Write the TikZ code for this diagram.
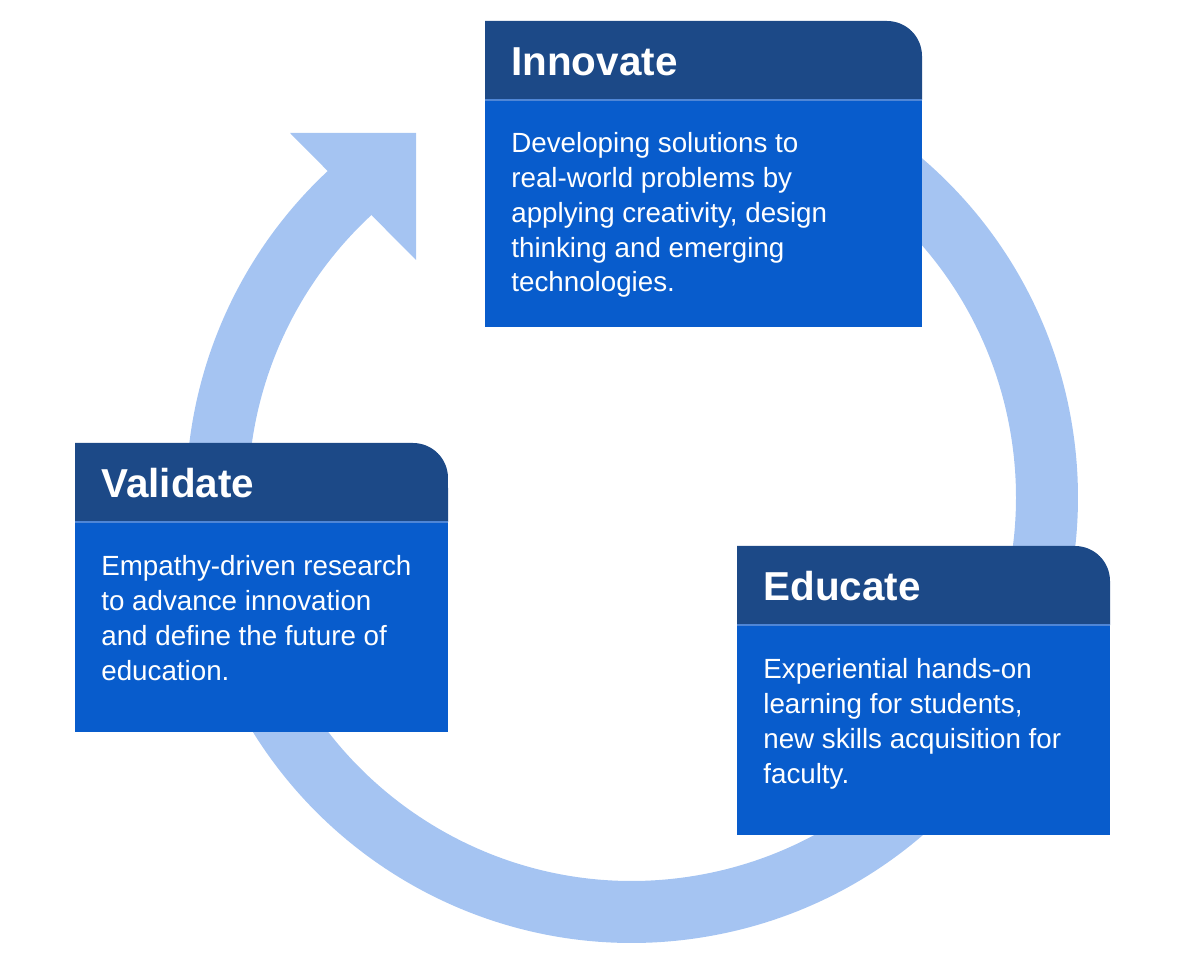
\documentclass[tikz,border=0pt]{standalone}
\usepackage{fontspec}
\setmainfont{Liberation Sans}

\definecolor{ringblue}{HTML}{A5C4F2}
\definecolor{headblue}{HTML}{1C4987}
\definecolor{bodyblue}{HTML}{085CCC}
\definecolor{lineblue}{HTML}{4F86D6}

\begin{document}
\begin{tikzpicture}[x=0.02cm,y=0.02cm,
        head/.style={fill=headblue},
        panel/.style={fill=bodyblue},
        seam/.style={draw=lineblue, line width=0.6pt},
        phasetitle/.style={anchor=base west, text=white, inner sep=0pt, font=\fontsize{23}{27}\selectfont\bfseries},
        phasetext/.style={anchor=base west, text=white, inner sep=0pt, align=left, font=\fontsize{15.8}{19.9}\selectfont}]
        \useasboundingbox (0,0) rectangle (1190,961);

        % cycle arrow behind the boxes
        \coordinate (hub) at (632,464);
        \draw[ringblue, line width=1.24cm] (hub) ++(100:8.3cm) arc[start angle=100, end angle=-228, radius=8.3cm];
        \fill[ringblue] (290,828) -- (416,828) -- (416,701) -- cycle;

        % Innovate (text anchored on its last baseline)
        \fill[panel] (485,634) rectangle (922,861);
        \fill[head] (485,861) -- (485,940) -- (887,940) arc[start angle=90, end angle=0, radius=0.7cm] -- (922,861) -- cycle;
        \draw[seam] (485,861) -- (922,861);
        \node[phasetitle] (innovTitle) at (511,885) {Innovate};
        \node[phasetext] (innovText) at (511,669) {Developing solutions to\\real-world problems by\\applying creativity, design\\thinking and emerging\\technologies.};

        % Validate
        \fill[panel] (75,229) rectangle (448,439);
        \fill[head] (75,439) -- (75,518) -- (413,518) arc[start angle=90, end angle=0, radius=0.7cm] -- (448,439) -- cycle;
        \draw[seam] (75,439) -- (448,439);
        \node[phasetitle] (validTitle) at (101,463) {Validate};
        \node[phasetext] (validText) at (101,281) {Empathy-driven research\\to advance innovation\\and define the future of\\education.};

        % Educate
        \fill[panel] (737,126) rectangle (1110,336);
        \fill[head] (737,336) -- (737,415) -- (1075,415) arc[start angle=90, end angle=0, radius=0.7cm] -- (1110,336) -- cycle;
        \draw[seam] (737,336) -- (1110,336);
        \node[phasetitle] (eduTitle) at (763,360) {Educate};
        \node[phasetext] (eduText) at (763,178) {Experiential hands-on\\learning for students,\\new skills acquisition for\\faculty.};
    \end{tikzpicture}
\end{document}
